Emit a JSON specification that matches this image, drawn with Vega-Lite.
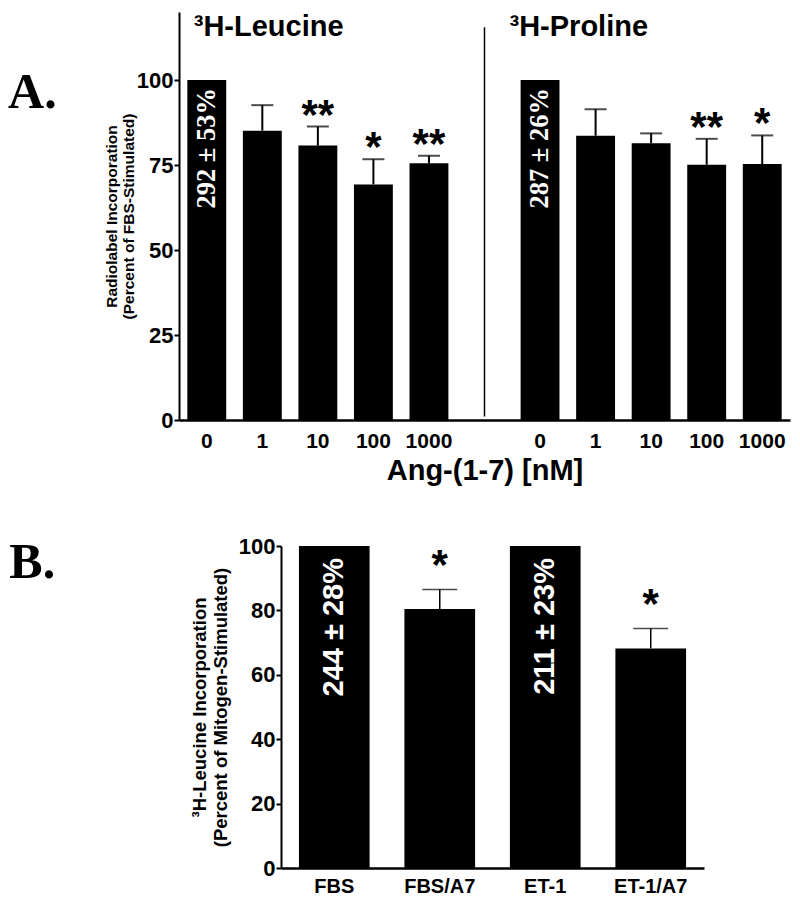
{
  "$schema": "https://vega.github.io/schema/vega-lite/v6.json",
  "padding": {"left": 8, "top": 12, "right": 5, "bottom": 0},
  "background": "white",
  "config": {
    "view": {"stroke": null},
    "font": "Liberation Sans",
    "axis": {"grid": false, "domainColor": "black", "tickColor": "black", "labelColor": "black", "titleColor": "black", "labelFont": "Liberation Sans", "titleFont": "Liberation Sans", "labelFontWeight": "bold", "titleFontWeight": "bold"}
  },
  "spacing": 50,
  "vconcat": [
    {
      "width": 611,
      "height": 408,
      "title": {"text": "A.", "orient": "left", "anchor": "end", "angle": 0, "align": "right", "baseline": "top", "font": "Liberation Serif", "fontSize": 50, "fontWeight": "bold", "color": "black", "offset": -1, "dy": 56},
      "data": {"values": [
        {"cat": "Leucine 0", "v": 100, "err": null, "label": "292 ± 53%", "sig": ""},
        {"cat": "Leucine 1", "v": 85.1, "err": 92.6, "label": "", "sig": ""},
        {"cat": "Leucine 10", "v": 80.7, "err": 86.3, "label": "", "sig": "**"},
        {"cat": "Leucine 100", "v": 69.3, "err": 76.7, "label": "", "sig": "*"},
        {"cat": "Leucine 1000", "v": 75.5, "err": 77.7, "label": "", "sig": "**"},
        {"cat": "Proline 0", "v": 100, "err": null, "label": "287 ± 26%", "sig": ""},
        {"cat": "Proline 1", "v": 83.6, "err": 91.4, "label": "", "sig": ""},
        {"cat": "Proline 10", "v": 81.4, "err": 84.3, "label": "", "sig": ""},
        {"cat": "Proline 100", "v": 75.1, "err": 82.7, "label": "", "sig": "**"},
        {"cat": "Proline 1000", "v": 75.3, "err": 83.7, "label": "", "sig": "*"}
      ]},
      "encoding": {
        "x": {
          "field": "cat", "type": "nominal", "sort": null,
          "scale": {"domain": ["Leucine 0", "Leucine 1", "Leucine 10", "Leucine 100", "Leucine 1000", "gap", "Proline 0", "Proline 1", "Proline 10", "Proline 100", "Proline 1000"], "paddingInner": 0.3, "paddingOuter": 0.15},
          "axis": {"labelExpr": "datum.value == 'gap' ? '' : split(datum.value, ' ')[1]", "labelAngle": 0, "labelFontSize": 21, "labelPadding": 10, "ticks": false, "domainWidth": 2.5, "title": "Ang-(1-7) [nM]", "titleFontSize": 29, "titlePadding": 5}
        }
      },
      "layer": [
        {
          "mark": {"type": "bar", "color": "black"},
          "encoding": {
            "y": {"field": "v", "type": "quantitative", "scale": {"domain": [0, 120]},
              "axis": {"values": [0, 25, 50, 75, 100], "title": ["Radiolabel Incorporation", "(Percent of FBS-Stimulated)"], "titleFontSize": 15.5, "titleLineHeight": 17, "titlePadding": 0, "labelFontSize": 22, "labelPadding": 1, "tickSize": 5, "tickWidth": 2, "domainWidth": 2}}
          }
        },
        {
          "transform": [{"filter": "datum.err != null"}],
          "mark": {"type": "rule", "color": "black", "strokeWidth": 2},
          "encoding": {"y": {"field": "v", "type": "quantitative"}, "y2": {"field": "err"}}
        },
        {
          "transform": [{"filter": "datum.err != null"}],
          "mark": {"type": "tick", "color": "black", "thickness": 2, "size": 22},
          "encoding": {"y": {"field": "err", "type": "quantitative"}}
        },
        {
          "transform": [{"filter": "datum.sig != ''"}],
          "mark": {"type": "text", "color": "black", "font": "Liberation Sans", "fontWeight": "bold", "fontSize": 42, "baseline": "alphabetic", "dy": 2},
          "encoding": {"y": {"field": "err", "type": "quantitative"}, "text": {"field": "sig"}}
        },
        {
          "transform": [{"filter": "datum.label != ''"}],
          "mark": {"type": "text", "color": "white", "font": "Liberation Serif", "fontWeight": "bold", "fontSize": 26.5, "angle": 270, "align": "right", "baseline": "middle", "dx": -8},
          "encoding": {"y": {"field": "v", "type": "quantitative"}, "text": {"field": "label"}}
        },
        {
          "data": {"values": [{}]},
          "mark": {"type": "rule", "color": "black", "strokeWidth": 1.5},
          "encoding": {"x": {"datum": "gap"}, "y": {"datum": 1}, "y2": {"datum": 115.5}}
        },
        {
          "data": {"values": [{}]},
          "mark": {"type": "text", "text": "³H-Leucine", "color": "black", "font": "Liberation Sans", "fontWeight": "bold", "fontSize": 29, "align": "left", "baseline": "alphabetic", "dx": -13},
          "encoding": {"x": {"datum": "Leucine 0"}, "y": {"datum": 113}}
        },
        {
          "data": {"values": [{}]},
          "mark": {"type": "text", "text": "³H-Proline", "color": "black", "font": "Liberation Sans", "fontWeight": "bold", "fontSize": 29, "align": "left", "baseline": "alphabetic", "dx": 25},
          "encoding": {"x": {"datum": "gap"}, "y": {"datum": 113}}
        }
      ]
    },
    {
      "width": 525,
      "height": 322,
      "title": {"text": "B.", "orient": "left", "anchor": "end", "angle": 0, "align": "right", "baseline": "top", "font": "Liberation Serif", "fontSize": 50, "fontWeight": "bold", "color": "black", "offset": 78, "dy": 3},
      "data": {"values": [
        {"cat": "FBS", "v": 100, "err": null, "label": "244 ± 28%", "sig": ""},
        {"cat": "FBS/A7", "v": 80.4, "err": 86.5, "label": "", "sig": "*"},
        {"cat": "ET-1", "v": 100, "err": null, "label": "211 ± 23%", "sig": ""},
        {"cat": "ET-1/A7", "v": 68.2, "err": 74.4, "label": "", "sig": "*"}
      ]},
      "encoding": {
        "x": {
          "field": "cat", "type": "nominal", "sort": null,
          "scale": {"range": [102, 525], "paddingInner": 0.33, "paddingOuter": 0.17},
          "axis": {"labelAngle": 0, "labelFontSize": 20, "labelPadding": 8, "ticks": false, "domainWidth": 2.5, "title": null}
        }
      },
      "layer": [
        {
          "mark": {"type": "bar", "color": "black"},
          "encoding": {
            "y": {"field": "v", "type": "quantitative", "scale": {"domain": [0, 100]},
              "axis": {"offset": -102, "values": [0, 20, 40, 60, 80, 100], "title": ["³H-Leucine Incorporation", "(Percent of Mitogen-Stimulated)"], "titleFontSize": 18.5, "titleLineHeight": 21, "titlePadding": 8, "labelFontSize": 22, "labelPadding": 1, "tickSize": 5, "tickWidth": 2, "domainWidth": 2}}
          }
        },
        {
          "transform": [{"filter": "datum.err != null"}],
          "mark": {"type": "rule", "color": "black", "strokeWidth": 1.5},
          "encoding": {"y": {"field": "v", "type": "quantitative"}, "y2": {"field": "err"}}
        },
        {
          "transform": [{"filter": "datum.err != null"}],
          "mark": {"type": "tick", "color": "black", "thickness": 1.5, "size": 35},
          "encoding": {"y": {"field": "err", "type": "quantitative"}}
        },
        {
          "transform": [{"filter": "datum.sig != ''"}],
          "mark": {"type": "text", "color": "black", "font": "Liberation Sans", "fontWeight": "bold", "fontSize": 42, "baseline": "alphabetic", "dy": -10},
          "encoding": {"y": {"field": "err", "type": "quantitative"}, "text": {"field": "sig"}}
        },
        {
          "transform": [{"filter": "datum.label != ''"}],
          "mark": {"type": "text", "color": "white", "font": "Liberation Sans", "fontWeight": "bold", "fontSize": 29, "angle": 270, "align": "right", "baseline": "middle", "dx": -12},
          "encoding": {"y": {"field": "v", "type": "quantitative"}, "text": {"field": "label"}}
        }
      ]
    }
  ]
}
